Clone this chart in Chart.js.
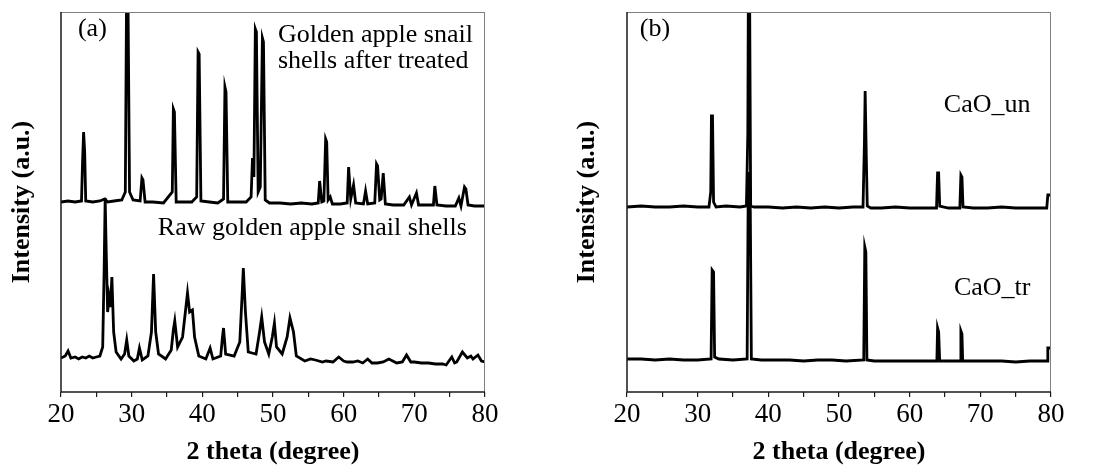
<!DOCTYPE html>
<html>
<head>
<meta charset="utf-8">
<script src="https://cdn.jsdelivr.net/npm/chart.js@4"></script>
<style>
  html, body { margin:0; padding:0; background:#fff; }
  #wrap  { position:relative; width:1096px; height:468px; }
  .panel { position:absolute; top:0; width:548px; height:468px; }
</style>
</head>
<body>
<div id="wrap">
  <div class="panel" style="left:0"><canvas id="chart-a"></canvas></div>
  <div class="panel" style="left:548px"><canvas id="chart-b"></canvas></div>
</div>
<script>
/* =============================================================
   XRD patterns — (a) snail shells, (b) CaO
   ============================================================= */

const SERIF   = '"Liberation Serif", "Times New Roman", serif';
const X_TITLE = '2 theta (degree)';
const Y_TITLE = 'Intensity (a.u.)';
const X_TICKS = [20, 30, 40, 50, 60, 70, 80];

/* [2θ, intensity] (intensity in arbitrary units, 0–380 frame) */
const treatedShells = [
  [20,190],[21,191],[22,190],[22.9,191],[23.05,230],[23.2,260],[23.35,240],[23.5,191],[24.5,190],
  [25.5,191],[26.2,193],[26.6,190],[27.5,191],[28.6,192],[29.1,200],[29.3,420],[29.45,420],[29.7,200],
  [30.2,192],[31.2,191],[31.45,214],[31.6,212],[31.9,190],[33,190],[34.5,189],[35.75,200],[35.9,283],
  [36.05,280],[36.3,190],[37.5,190],[38.5,190],[39.2,195],[39.4,340],[39.55,338],[39.8,191],[41,190],
  [42.2,189],[43.0,193],[43.2,305],[43.35,300],[43.6,190],[44.8,190],[46.2,190],[46.9,195],[47.1,234],
  [47.3,215],[47.5,363],[47.65,360],[47.9,200],[48.2,205],[48.5,354],[48.65,350],[48.9,192],[49.5,189],
  [51,189],[52.5,188],[54,189],[55.5,188],[56.4,189],[56.6,211],[56.9,190],[57.2,191],[57.45,253],
  [57.6,250],[57.8,192],[58.1,195],[58.4,188],[59.5,188],[60.5,189],[60.7,225],[61.0,193],[61.4,207],
  [61.7,189],[62.8,188],[63.1,201],[63.4,188],[64.4,189],[64.65,228],[64.8,226],[65.1,192],[65.3,193],
  [65.6,219],[65.9,188],[67,187],[68.5,187],[69.3,195],[69.6,187],[70.3,199],[70.6,187],[71.8,187],
  [72.7,187],[72.9,206],[73.2,187],[74.5,186],[75.8,186],[76.3,194],[76.6,186],[77.1,205],[77.3,203],
  [77.6,187],[78.5,186],[80,186],
];

const rawShells = [
  [20,34],[20.6,36],[21.0,41],[21.4,34],[22.0,35],[22.5,33],[23.0,35],[23.5,34],[24.0,36],[24.5,34],
  [25.0,35],[25.5,36],[25.9,45],[26.1,120],[26.25,194],[26.4,140],[26.6,80],[26.8,95],[27.0,85],
  [27.2,115],[27.45,60],[27.8,40],[28.5,33],[29.0,38],[29.3,52],[29.6,36],[30.3,31],[30.8,33],
  [31.1,44],[31.5,32],[32.3,36],[32.8,60],[33.1,118],[33.4,60],[33.8,38],[34.8,33],[35.6,42],
  [35.9,62],[36.1,71],[36.5,45],[37.2,55],[37.6,80],[37.9,99],[38.2,80],[38.6,82],[38.9,55],[39.5,36],
  [40.5,33],[41.1,44],[41.5,33],[42.6,36],[42.85,55],[43.0,64],[43.3,38],[44.5,36],[45.3,50],
  [45.65,100],[45.8,124],[46.1,80],[46.5,40],[47.6,38],[48.1,60],[48.4,75],[48.8,50],[49.4,38],
  [49.9,55],[50.2,69],[50.5,45],[51.3,38],[52.0,55],[52.4,74],[52.9,60],[53.3,36],[54.5,31],[55.3,33],
  [56.0,32],[57.0,30],[57.5,31],[58.5,30],[59.3,35],[60.0,31],[60.5,30],[61.3,30],[62.0,31],[62.7,29],
  [63.4,33],[64.0,29],[64.8,29],[65.6,30],[66.4,33],[67.5,29],[68.3,30],[68.9,37],[69.5,30],[70.0,30],
  [71.0,29],[72,29],[73,28],[74.0,28],[74.5,27],[75.3,35],[75.7,29],[76.0,30],[76.8,40],[77.5,34],
  [78.0,36],[78.3,33],[79.0,37],[79.5,31],[80.0,30],
];

const caoUn = [
  [20,185],[22,186],[24,185],[26,185],[28,186],[30,185],[31.6,185],[31.85,200],[31.95,276],[32.1,276],
  [32.25,190],[32.6,185],[34,186],[36,185],[36.9,186],[37.1,260],[37.2,460],[37.35,400],[37.5,186],
  [38,185],[40,185],[42,184],[44,185],[46,184],[48,185],[50,184],[52,185],[53.4,185],[53.6,250],
  [53.7,301],[53.85,240],[54.0,186],[54.5,184],[56,184],[58,185],[60,184],[62,184],[63.8,184],
  [63.95,219],[64.1,219],[64.25,186],[65.5,184],[67.1,184],[67.25,217],[67.4,215],[67.55,185],
  [69,184],[71,184],[73,185],[75,184],[77,184],[79.4,184],[79.55,197],[79.8,197],[80,197],
];

const caoTr = [
  [20,33],[22,33],[24,32],[26,33],[28,32],[30,32],[31.9,33],[32.05,122],[32.25,120],[32.4,35],
  [33,33],[35,32],[37.0,33],[37.15,200],[37.3,220],[37.45,180],[37.6,33],[39,32],[41,32],[43,32],
  [45,31],[47,32],[49,32],[51,31],[53.5,32],[53.65,145],[53.8,140],[53.95,32],[55,31],[57,31],
  [59,31],[61,31],[63.85,31],[63.95,64],[64.1,60],[64.25,31],[65.5,31],[67.15,31],[67.25,61],
  [67.4,58],[67.5,31],[69,31],[71,31],[73,31],[75,30],[77,31],[79.45,31],[79.55,44],[80,44],
];

/* text labels, placed in data coordinates */
const notesA = [
  { text:'(a)',                           at:[22.4, 356] },
  { text:'Golden apple snail',            at:[50.7, 350] },
  { text:'shells after treated',          at:[50.7, 324] },
  { text:'Raw golden apple snail shells', at:[33.7, 157] },
];
const notesB = [
  { text:'(b)',    at:[21.8, 356] },
  { text:'CaO_un', at:[77.1, 280], align:'right' },
  { text:'CaO_tr', at:[77.1,  97], align:'right' },
];

/* ── PLUGINS ─────────────────────────────────────────────── */
const framePlugin = {
  id: 'frame',
  afterDatasetsDraw(chart) {
    const { ctx, chartArea: { left, right, top, bottom } } = chart;
    ctx.save();
    ctx.lineWidth = 1;
    ctx.strokeStyle = '#808080';
    ctx.beginPath();
    ctx.moveTo(left, top + 0.5);    ctx.lineTo(right, top + 0.5);
    ctx.moveTo(right - 0.5, top);   ctx.lineTo(right - 0.5, bottom);
    ctx.stroke();
    ctx.lineWidth = 1.5;
    ctx.strokeStyle = '#1a1a1a';
    ctx.beginPath();
    ctx.moveTo(left, top); ctx.lineTo(left, bottom); ctx.lineTo(right, bottom);
    ctx.stroke();
    ctx.restore();
  },
};

const notesPlugin = {
  id: 'notes',
  afterDatasetsDraw(chart, args, opts) {
    const { ctx, scales: { x, y } } = chart;
    ctx.save();
    ctx.fillStyle = '#000';
    ctx.font = '26px ' + SERIF;
    ctx.textBaseline = 'alphabetic';
    (opts.items || []).forEach(n => {
      ctx.textAlign = n.align || 'left';
      ctx.fillText(n.text, x.getPixelForValue(n.at[0]), y.getPixelForValue(n.at[1]));
    });
    ctx.restore();
  },
};

/* ── COMMON OPTIONS ──────────────────────────────────────── */
function trace(points) {
  return {
    data: points.map(p => ({ x: p[0], y: p[1] })),
    showLine: true,
    borderColor: '#000',
    borderWidth: 2.8,
    pointRadius: 0,
    tension: 0,
  };
}

function xrdOptions(axisWidth, yTitlePad, padRight, notes) {
  return {
    responsive: true, maintainAspectRatio: false, animation: false,
    layout: { padding: { top: 12, right: padRight, left: 0, bottom: 0 } },
    plugins: {
      legend: { display: false },
      tooltip: { enabled: false },
      notes: { items: notes },
    },
    scales: {
      x: {
        type: 'linear', min: 20, max: 80,
        afterBuildTicks: s => {
          const t = [];
          for (let v = 20; v <= 80; v += 5) t.push({ value: v });
          s.ticks = t;
        },
        ticks: {
          color: '#000', padding: 2, maxRotation: 0, autoSkip: false,
          font: { family: SERIF, size: 27 },
          callback: v => X_TICKS.includes(v) ? String(v) : '',
        },
        grid:   { drawOnChartArea: false, tickLength: 5, color: '#1a1a1a', lineWidth: 1.2 },
        border: { display: false },
        title:  { display: true, text: X_TITLE, color: '#000', padding: { top: 0, bottom: 0 },
                  font: { family: SERIF, size: 26, weight: 'bold' } },
        afterFit: s => { s.height = 76; },
      },
      y: {
        min: 0, max: 380,
        ticks:  { display: false },
        grid:   { display: false },
        border: { display: false },
        title:  { display: true, text: Y_TITLE, color: '#000', padding: { top: yTitlePad, bottom: 0 },
                  font: { family: SERIF, size: 26, weight: 'bold' } },
        afterFit: s => { s.width = axisWidth; },
      },
    },
  };
}

new Chart(document.getElementById('chart-a'), {
  type: 'scatter',
  data: { datasets: [ trace(treatedShells), trace(rawShells) ] },
  options: xrdOptions(61, 7, 63, notesA),
  plugins: [framePlugin, notesPlugin],
});

new Chart(document.getElementById('chart-b'), {
  type: 'scatter',
  data: { datasets: [ trace(caoUn), trace(caoTr) ] },
  options: xrdOptions(79, 24, 45, notesB),
  plugins: [framePlugin, notesPlugin],
});
</script>
</body>
</html>
